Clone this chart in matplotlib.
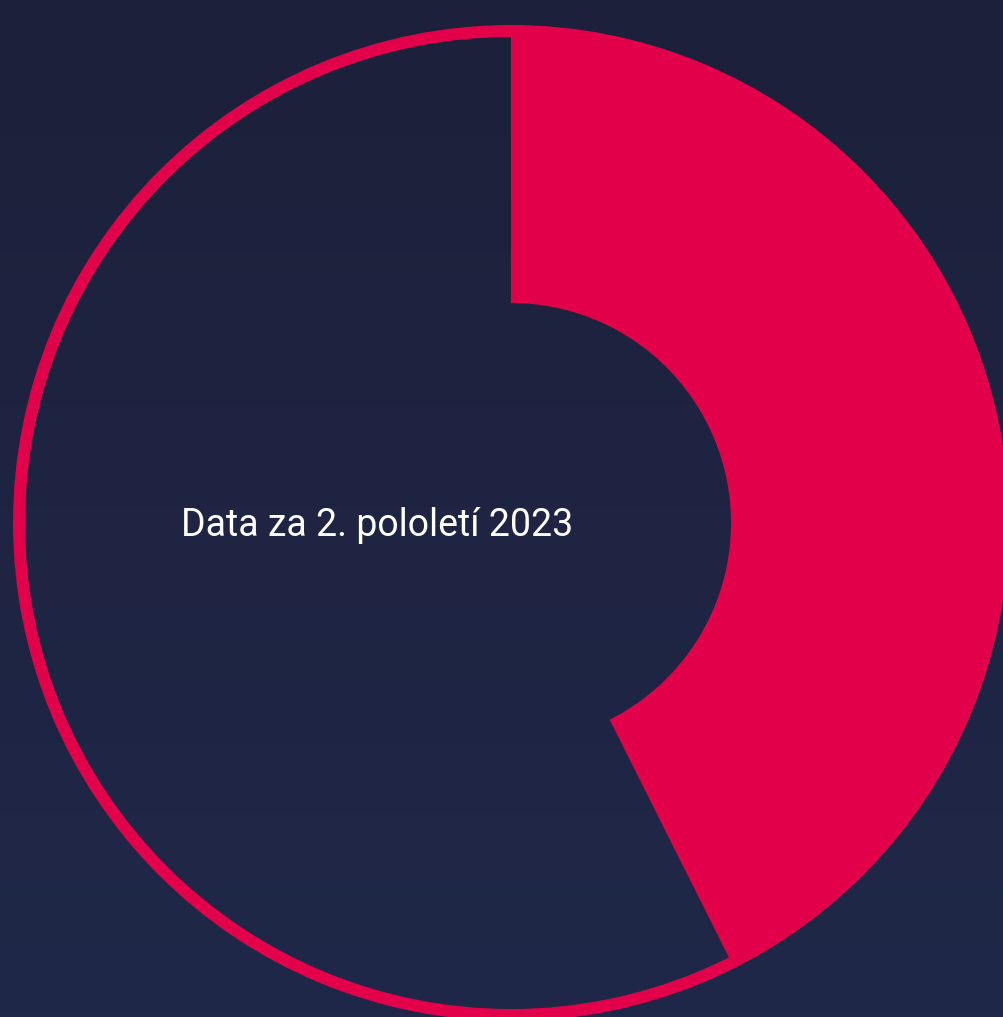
import numpy as np
import matplotlib.pyplot as plt

# data
labels = ['podíl', 'zbytek']
values = [42.6, 57.4]
title_text = 'Data za 2. pololetí 2023'

red = '#e3004b'
W, H = 1004, 1017

fig = plt.figure(figsize=(W / 100, H / 100), dpi=100)

# background gradient
bg = fig.add_axes([0, 0, 1, 1])
grad = np.linspace(0, 1, 256).reshape(-1, 1)
top = np.array([28, 32, 58]) / 255
bottom = np.array([32, 40, 73]) / 255
img = top + grad[..., None] * (bottom - top)
bg.imshow(img, aspect='auto', extent=[0, 1, 0, 1])
bg.axis('off')

ax = fig.add_axes([0, 0, 1, 1])
ax.set_xlim(0, W)
ax.set_ylim(0, H)
ax.set_aspect('equal')
ax.axis('off')
ax.patch.set_alpha(0)

cx, cy = 511, H - 523

# outer thin ring
ax.pie([1], colors=[red], radius=498, center=(cx, cy),
       wedgeprops=dict(width=12, linewidth=0), frame=False)

# donut
ax.pie(values, colors=[red, 'none'], radius=487, center=(cx, cy),
       startangle=90, counterclock=False,
       wedgeprops=dict(width=267, linewidth=0), frame=False)

ax.set_xlim(0, W)
ax.set_ylim(0, H)

ax.text(377, H - 525, title_text, color='white', fontsize=27,
        family='Roboto', ha='center', va='center')

fig.savefig('out.png', dpi=100)
